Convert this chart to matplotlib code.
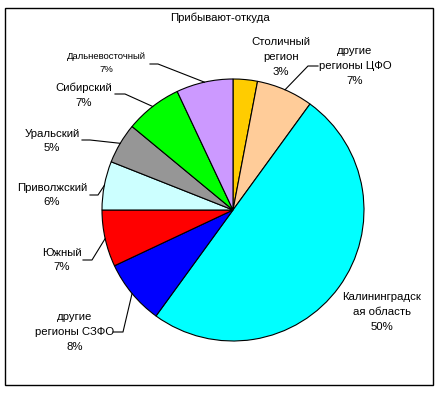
import numpy as np
import matplotlib.pyplot as plt
from matplotlib.patches import Rectangle

# === DATI ===
regioni = ['Столичный\nрегион', 'другие\nрегионы ЦФО', 'Калининградск\nая область',
           'другие\nрегионы СЗФО', 'Южный', 'Приволжский', 'Уральский',
           'Сибирский', 'Дальневосточный']
quote = [3, 7, 50, 8, 7, 6, 5, 7, 7]
colori = ['#FFCC00', '#FFCC99', '#00FFFF', '#0000FF', '#FF0000',
          '#CCFFFF', '#969696', '#00FF00', '#CC99FF']

# === LAYOUT (pixel, y verso il basso) ===
W, H = 443, 394
cx, cy, R = 233, 210, 131
pos_testo = [(281, 57), (355, 66), (382, 312), (75, 332), (62, 260),
             (52, 195), (52, 141), (84, 95), (106, 63)]
# leader: (punto al testo, gomito) oppure None
leader = [None, ((318, 66), (308, 66)), None, ((113, 332), (123, 332)),
          ((83, 260), (92, 260)), ((90, 195), (98, 195)), ((82, 140), (90, 140)),
          ((115, 94), (125, 94)), ((150, 64), (158, 64))]

plt.rcParams['font.family'] = ['Liberation Sans', 'DejaVu Sans']

fig = plt.figure(figsize=(W / 100, H / 100), dpi=100)
ax = fig.add_axes([0, 0, 1, 1])
ax.set_xlim(0, W)
ax.set_ylim(0, H)
ax.axis('off')

wedges, _ = ax.pie(quote, colors=colori, startangle=90, counterclock=False,
                   radius=R, center=(cx, H - cy),
                   wedgeprops=dict(edgecolor='black', linewidth=0.8))
ax.set_xlim(0, W)
ax.set_ylim(0, H)

tot = sum(quote)
cum = np.cumsum([0] + quote)
for i, nome in enumerate(regioni):
    fs = 6.8 if nome == 'Дальневосточный' else 8.2
    tx, ty = pos_testo[i]
    ax.text(tx, H - ty, f'{nome}\n{quote[i]}%', ha='center', va='center',
            fontsize=fs, linespacing=1.6 if fs > 7 else 1.5)
    if leader[i] is not None:
        mid = (cum[i] + quote[i] / 2) / tot * 2 * np.pi
        px = cx + R * np.sin(mid)
        py = cy - R * np.cos(mid)
        (ax_, ay_), (gx, gy) = leader[i]
        ax.plot([ax_, gx, px], [H - ay_, H - gy, H - py], color='black', lw=0.8)

ax.text(220, H - 18, 'Прибывают-откуда', ha='center', va='center', fontsize=8.2)

fig.patches.append(Rectangle((5 / W, 1 - 385 / H), 428 / W, 377 / H,
                             transform=fig.transFigure, fill=False,
                             edgecolor='black', lw=1))

fig.savefig('out.png', dpi=100)
